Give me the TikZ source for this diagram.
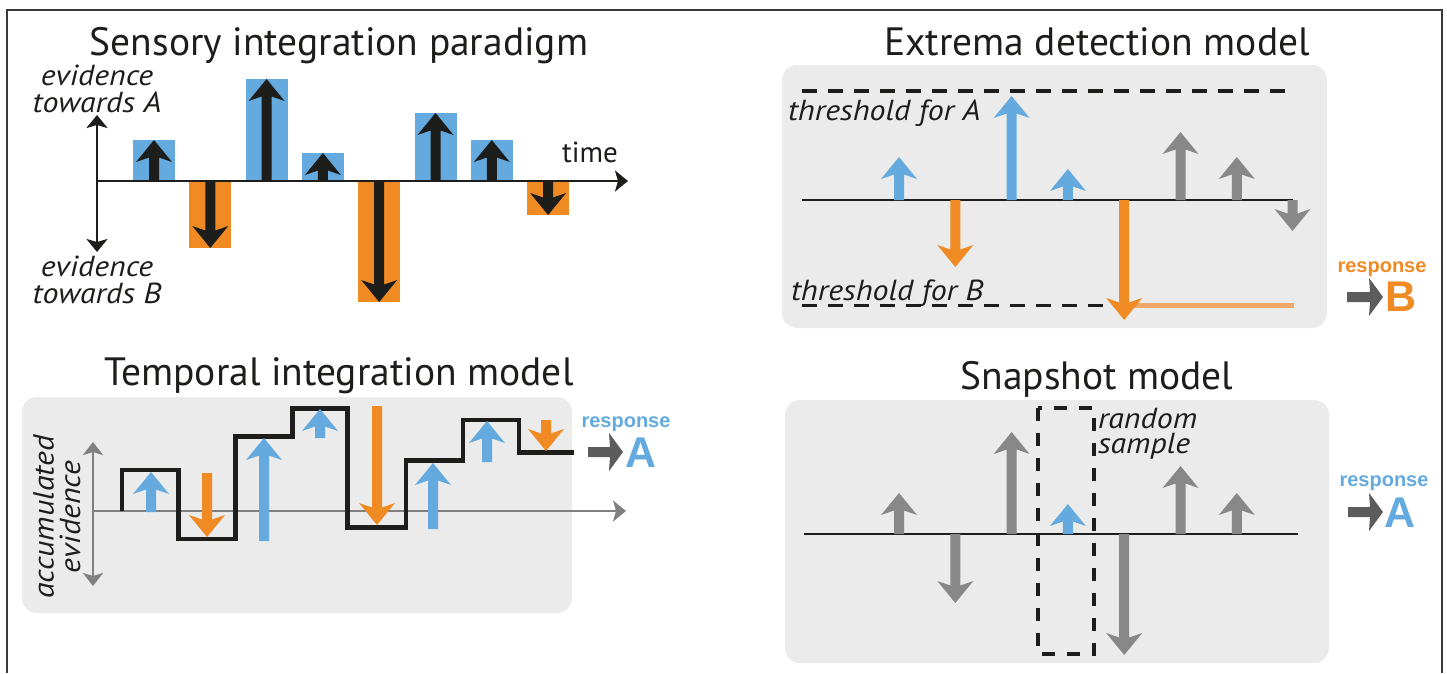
\documentclass[tikz,border=0pt]{standalone}
\usepackage{fontspec}
\setmainfont{PT Sans}
\newfontfamily\labfont{PT Sans}[FakeStretch=1.1]
\newfontfamily\respfont{Liberation Sans}
\usetikzlibrary{arrows.meta}
\definecolor{cblue}{HTML}{64AADF}
\definecolor{corange}{HTML}{F08A22}
\definecolor{cgray}{HTML}{888888}
\definecolor{boxgray}{HTML}{EBEBEB}
\definecolor{cblack}{HTML}{1D1D1B}
\definecolor{lorange}{HTML}{EFA669}
\definecolor{agray}{HTML}{5C5C5C}
\definecolor{axgray}{HTML}{808080}
\definecolor{frame}{HTML}{3A3A3A}
% evidence arrow: colour, x, y of base, y of tip (pixel coordinates, y downwards)
\newcommand\evarr[4]{%
  \pgfmathsetmacro\evsg{ifthenelse(#3>#4,1,-1)}%
  \pgfmathsetmacro\evL{abs(#3-#4)}%
  \fill[#1,shift={(#2,#4)},yscale=\evsg] (0,0) -- (18,22) -- (5,17.5) -- (5,\evL) -- (-5,\evL) -- (-5,17.5) -- (-18,22) -- cycle;}
% response arrow: start x, tip x, y
\newcommand\resparr[3]{%
  \fill[agray] (#1,{#3-5}) -- ({#2-13},{#3-5}) -- ({#2-14},{#3-19}) -- (#2,#3) -- ({#2-14},{#3+19}) -- ({#2-13},{#3+5}) -- (#1,{#3+5}) -- cycle;}
\begin{document}
\begin{tikzpicture}[x=1pt,y=-1pt,
  every node/.style={inner sep=0pt,outer sep=0pt,text=cblack},
  title/.style={anchor=base,font=\fontsize{39.5}{45}\selectfont},
  lab/.style={anchor=base,align=center,font=\labfont\itshape\fontsize{29}{26.5}\selectfont},
  labw/.style={anchor=base west,align=left,font=\labfont\itshape\fontsize{29}{25}\selectfont},
  resp/.style={anchor=base,font=\respfont\bfseries\fontsize{20}{24}\selectfont},
  respbig/.style={anchor=base west,font=\respfont\bfseries\fontsize{43}{48}\selectfont},
  panel/.style={fill=boxgray,rounded corners=15pt},
  thr/.style={line width=3.5pt,cblack,dash pattern=on 15pt off 11pt},
  baseline/.style={line width=2.5pt,cblack},
  blackaxis/.style={line width=2.8pt,cblack},
  grayaxis/.style={line width=2.5pt,axgray},
  bluebar/.style={fill=cblue},
  orangebar/.style={fill=corange}]
\useasboundingbox (0,0) rectangle (1447,673);
% outer frame
\draw[frame,line width=1.8pt] (7,673) -- (7,10) -- (1442,10) -- (1442,673);

% ---------------- Sensory integration paradigm ----------------
\node[title] (t1) at (339,55) {Sensory integration paradigm};
\node[lab] (ea) at (97,112) {evidence\\towards A};
\node[lab] (eb) at (97,303) {evidence\\towards B};
\node[anchor=base,font=\fontsize{29}{34}\selectfont] (time) at (590,162) {time};
\fill[bluebar]   (133,140) rectangle (175,181);
\fill[orangebar] (189.3,181) rectangle (231.3,248);
\fill[bluebar]   (245.6,79) rectangle (287.6,181);
\fill[bluebar]   (301.9,153) rectangle (343.9,181);
\fill[orangebar] (358.2,181) rectangle (400.2,302);
\fill[bluebar]   (414.5,113) rectangle (456.5,181);
\fill[bluebar]   (470.8,140) rectangle (512.8,181);
\fill[orangebar] (527.1,181) rectangle (569.1,215);
\coordinate (yt) at (97,115);
\coordinate (yb) at (97,252);
\coordinate (xo) at (97,181);
\coordinate (xe) at (628,181);
\draw[blackaxis,{Stealth[length=13pt,width=21pt,inset=3pt]}-{Stealth[length=13pt,width=21pt,inset=3pt]}] (yt) -- (yb);
\draw[blackaxis,-{Stealth[length=13pt,width=21pt,inset=3pt]}] (xo) -- (xe);
\evarr{cblack}{154}{181}{140}
\evarr{cblack}{210.3}{181}{248}
\evarr{cblack}{266.6}{181}{79}
\evarr{cblack}{322.9}{181}{153}
\evarr{cblack}{379.2}{181}{302}
\evarr{cblack}{435.5}{181}{113}
\evarr{cblack}{491.8}{181}{140}
\evarr{cblack}{548.1}{181}{215}

% ---------------- Temporal integration model ----------------
\node[title] (t2) at (339,385) {Temporal integration model};
\fill[panel] (22,397) rectangle (572,613);
\node[lab,rotate=90] (acc) at (80,517) {accumulated\\evidence};
\coordinate (gyt) at (93,442);
\coordinate (gyb) at (93,586);
\coordinate (gxo) at (93,511);
\coordinate (gxe) at (626,511);
\draw[grayaxis,{Stealth[length=13pt,width=20pt,inset=3pt]}-{Stealth[length=13pt,width=20pt,inset=3pt]}] (gyt) -- (gyb);
\draw[grayaxis,-{Stealth[length=13pt,width=21pt,inset=3pt]}] (gxo) -- (gxe);
\draw[cblack,line width=4.5pt,line join=miter] (122,511) -- (122,470) -- (178.5,470) -- (178.5,539) -- (235.4,539) -- (235.4,436.7) -- (292.4,436.7) -- (292.4,408.3) -- (347.5,408.3) -- (347.5,527.7) -- (405.8,527.7) -- (405.8,460.7) -- (462.8,460.7) -- (462.8,420) -- (518.8,420) -- (518.8,452.7) -- (574,452.7);
\evarr{cblue}{151}{512}{472}
\evarr{corange}{207}{473}{537}
\evarr{cblue}{264}{541}{438}
\evarr{cblue}{320}{438}{409}
\evarr{corange}{377}{406}{525}
\evarr{cblue}{433}{529}{463}
\evarr{cblue}{487}{462}{421}
\evarr{corange}{546}{420}{451}
\node[resp,text=cblue] (r1) at (626,427) {response};
\resparr{588}{623}{452}
\node[respbig,text=cblue] (ra1) at (625,467) {A};

% ---------------- Extrema detection model ----------------
\node[title] (t3) at (1097,55) {Extrema detection model};
\fill[panel] (782,65) rectangle (1327,328);
\coordinate (tha0) at (802,91);
\coordinate (tha1) at (1296,91);
\draw[thr] (tha0) -- (tha1);
\node[labw] (tha) at (788,120) {threshold for A};
\coordinate (ax0) at (802,200);
\coordinate (ax1) at (1293,200);
\draw[baseline] (ax0) -- (ax1);
\coordinate (thb0) at (802,305.5);
\coordinate (thb1) at (1120,305.5);
\coordinate (thb2) at (1294,305.5);
\draw[thr] (thb0) -- (thb1);
\draw[lorange,line width=5pt] (thb1) -- (thb2);
\node[labw] (thb) at (791,300) {threshold for B};
\evarr{cblue}{899}{200}{157}
\evarr{corange}{955.3}{200}{267}
\evarr{cblue}{1011.6}{200}{96}
\evarr{cblue}{1067.9}{200}{169}
\evarr{corange}{1124.2}{200}{320}
\evarr{cgray}{1180.5}{200}{132}
\evarr{cgray}{1236.8}{200}{157}
\evarr{cgray}{1292.5}{200}{231}
\node[resp,text=corange] (r2) at (1382,272) {response};
\resparr{1347}{1383}{297}
\node[respbig,text=corange] (rb) at (1385,311) {B};

% ---------------- Snapshot model ----------------
\node[title] (t4) at (1097,389) {Snapshot model};
\fill[panel] (785,400) rectangle (1329,663);
\coordinate (sx0) at (804,534);
\coordinate (sx1) at (1298,534);
\draw[baseline] (sx0) -- (sx1);
\evarr{cgray}{899}{534}{493}
\evarr{cgray}{955.3}{534}{603}
\evarr{cgray}{1011.6}{534}{432}
\evarr{cblue}{1067.9}{534}{504}
\evarr{cgray}{1124.2}{534}{655}
\evarr{cgray}{1180.5}{534}{466}
\evarr{cgray}{1236.8}{534}{493}
\draw[line width=3.5pt,cblack,dash pattern=on 13pt off 12pt] (1038,408) rectangle (1094,654);
\node[labw] (rs) at (1098,453) {random\\sample};
\node[resp,text=cblue] (r3) at (1384,486) {response};
\resparr{1348}{1383}{512}
\node[respbig,text=cblue] (ra2) at (1384,527) {A};
\end{tikzpicture}
\end{document}
